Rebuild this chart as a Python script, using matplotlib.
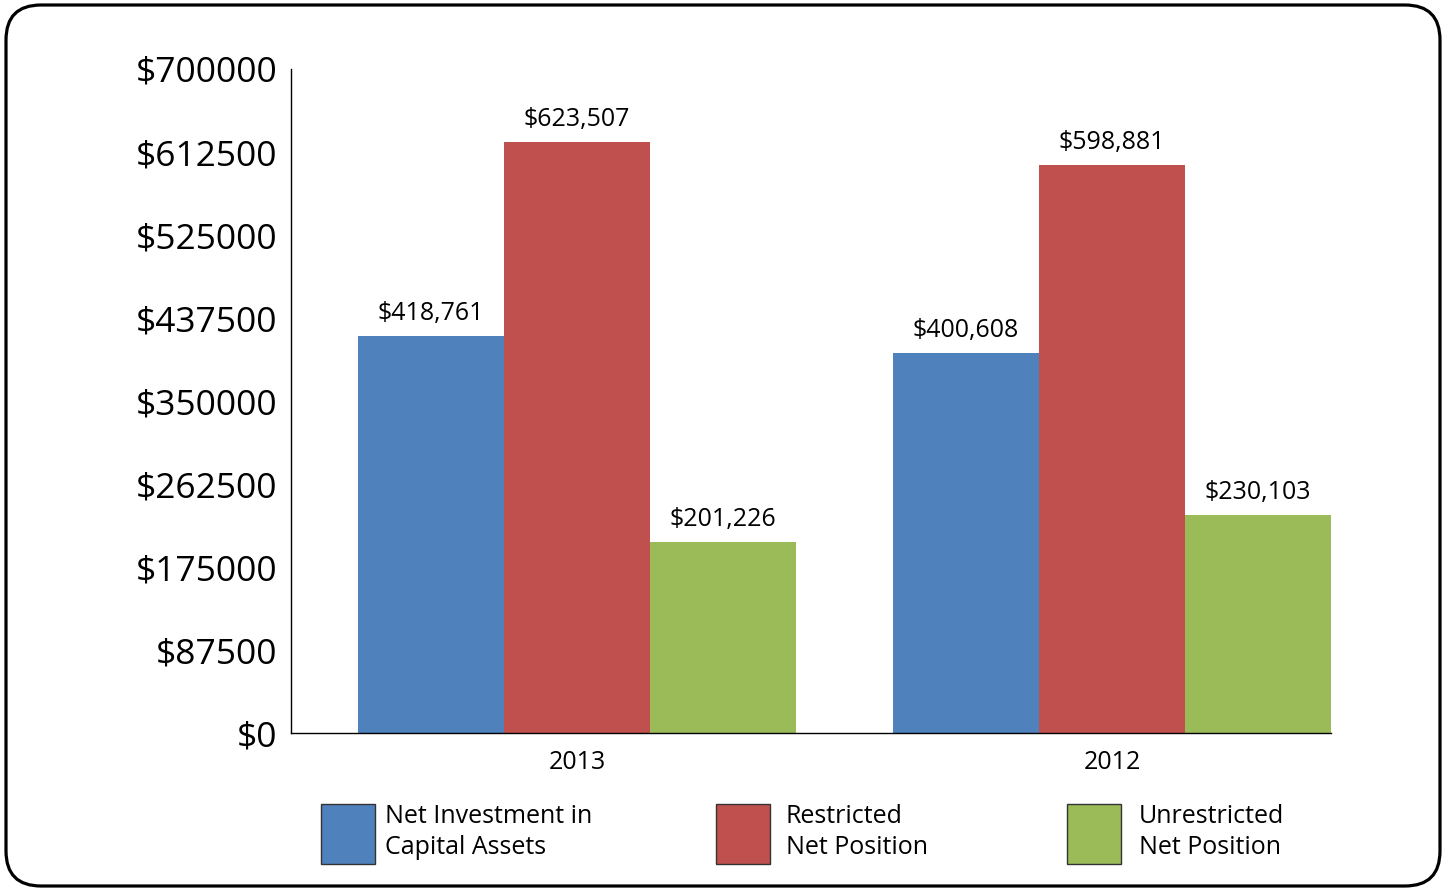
import matplotlib
matplotlib.use("Agg")
import matplotlib.pyplot as plt
from matplotlib.patches import Patch, FancyBboxPatch
import numpy as np

plt.rcParams['font.family'] = ['Open Sans', 'DejaVu Sans']

years = ['2013', '2012']
series = ['Net Investment in\nCapital Assets', 'Restricted\nNet Position', 'Unrestricted\nNet Position']
net_investment = [418761, 400608]
restricted = [623507, 598881]
unrestricted = [201226, 230103]
colors = ['#4F81BD', '#C0504D', '#9BBB59']
yticks = [0, 87500, 175000, 262500, 350000, 437500, 525000, 612500, 700000]

fig = plt.figure(figsize=(14.45, 8.88), dpi=100)
ax = fig.add_axes([0.2014, 0.1745, 0.7197, 0.7478])

x = np.arange(len(years))
w = 0.273
for i, vals in enumerate([net_investment, restricted, unrestricted]):
    pos = x + (i - 1) * w
    bars = ax.bar(pos, vals, width=w, color=colors[i], linewidth=0)
    for b, v in zip(bars, vals):
        ax.annotate('${:,}'.format(v), (b.get_x() + b.get_width() / 2, v),
                    xytext=(0, 7), textcoords='offset points',
                    ha='center', va='bottom', fontsize=18)

ax.set_xlim(-0.535, 1 + w * 1.5)
ax.set_ylim(0, 700000)
ax.set_yticks(yticks)
ax.set_yticklabels(['$%d' % t for t in yticks], fontsize=25.5)
ax.set_xticks(x)
ax.set_xticklabels(years, fontsize=18)
ax.tick_params(axis='both', length=0)
ax.tick_params(axis='y', pad=10)
ax.tick_params(axis='x', pad=12)
for s in ['top', 'right']:
    ax.spines[s].set_visible(False)
for s in ['left', 'bottom']:
    ax.spines[s].set_linewidth(1)
    ax.spines[s].set_color('black')

# one legend per entry so the columns sit where they do in the original
leg_x = [321, 716, 1067]
leg_pad = [0.4, 0.64, 0.72]
for c, lab, lx, pad in zip(colors, series, leg_x, leg_pad):
    h = Patch(facecolor=c, edgecolor='#333333', linewidth=1)
    leg = fig.legend([h], [lab], loc='center left', bbox_to_anchor=(lx / 1445, 1 - 834 / 888),
                     frameon=False, fontsize=18, handlelength=2.16, handleheight=3.34,
                     handletextpad=pad, borderaxespad=0, borderpad=0)
    for t in leg.get_texts():
        t.set_linespacing(1.34)

frame = FancyBboxPatch((0.06, 0.02), 14.34, 8.81, boxstyle='round,pad=0,rounding_size=0.35',
                       transform=fig.dpi_scale_trans, fill=False, edgecolor='black',
                       linewidth=2.3, clip_on=False)
fig.patches.append(frame)

fig.savefig('out.png', dpi=100)
